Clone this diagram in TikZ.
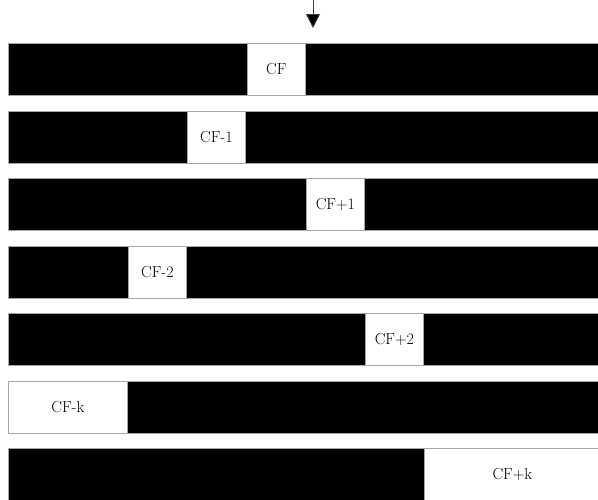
\documentclass[tikz,border=0pt]{standalone}
\usetikzlibrary{arrows.meta}
\begin{document}
\begin{tikzpicture}[x=1pt,y=-1pt,
  bar/.style={draw=gray!70,line width=0.7pt,fill=black,anchor=north west,inner sep=0pt,minimum height=52pt},
  cell/.style={draw=gray!70,line width=0.7pt,fill=white,anchor=north west,inner sep=0pt,minimum height=52pt,font=\fontsize{16}{18}\selectfont},
  arr/.style={draw=black!75,line width=0.8pt,-{Triangle[width=14pt,length=14pt,fill=black]}}]
\useasboundingbox (0,0) rectangle (598,499);
\clip (0,0) rectangle (598,499);
\fill[white] (0,0) rectangle (598,499);
% bars
\node[bar,minimum width=600pt] (b0) at (8,43) {};
\node[bar,minimum width=600pt] (b1) at (8,111) {};
\node[bar,minimum width=600pt] (b2) at (8,178) {};
\node[bar,minimum width=600pt] (b3) at (8,246) {};
\node[bar,minimum width=600pt] (b4) at (8,313) {};
\node[bar,minimum width=600pt] (b5) at (8,381) {};
\node[bar,minimum width=600pt] (b6) at (8,448) {};
% cells
\node[cell,minimum width=58pt] (c0) at (247,43) {CF};
\node[cell,minimum width=58pt] (c1) at (187,111) {CF-1};
\node[cell,minimum width=58pt] (c2) at (306,178) {CF+1};
\node[cell,minimum width=58pt] (c3) at (128,246) {CF-2};
\node[cell,minimum width=58pt] (c4) at (365,313) {CF+2};
\node[cell,minimum width=119pt] (c5) at (8,381) {CF-k};
\node[cell,minimum width=176pt] (c6) at (424,448) {CF+k};
% arrow
\coordinate (src) at (313,-2);
\coordinate (tip) at (313,28);
\draw[arr] (src) -- (tip);
\end{tikzpicture}
\end{document}
